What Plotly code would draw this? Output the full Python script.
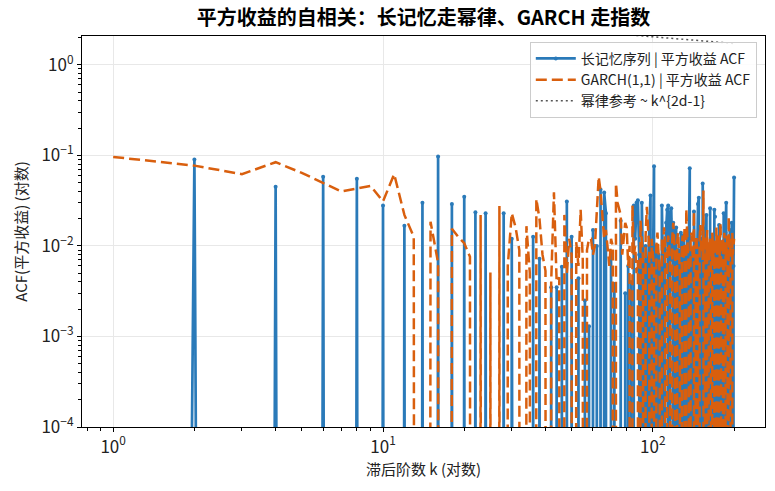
import numpy as np
import plotly.graph_objects as go

lags = list(range(1, 201))

# 长记忆序列 平方收益 ACF (负值在对数轴上被截断)
acf_long_memory = [
    -0.03, 0.090, -0.025, 0.045, -0.02, 0.058, -0.018, 0.055, -0.015, 0.028,
    -0.012, 0.0167, -0.01, 0.030, -0.01, 0.097, -0.01, 0.029, -0.008, 0.035,
    -0.008, 0.0235, -0.008, 0.023, -0.006, -0.005, -0.005, 0.023, -0.005, 0.012,
    -0.004, -0.004, -0.004, -0.003, -0.003, 0.0126, -0.003, 0.0072, -0.003, -0.003,
    -0.002, 0.0035, -0.002, 0.0035, -0.002, 0.0059, -0.002, 0.031, -0.002, 0.0126,
    -0.002, -0.002, 0.0044, -0.002, -0.002, 0.0025, -0.002, 0.0013, -0.002, 0.015,
    -0.002, 0.010, -0.002, 0.042, -0.002, 0.039, 0.023, -0.002, -0.002, 0.0083,
    -0.002, 0.0038, -0.002, -0.002, -0.002, 0.019, -0.002, -0.002, 0.003, -0.002,
    0.006, -0.002, 0.004, -0.002, 0.028, 0.012, 0.030, 0.032, 0.008, -0.002,
    0.030, 0.005, -0.002, 0.010, -0.002, 0.006, 0.015, 0.036, -0.002, 0.004,
    0.076, -0.002, 0.010, -0.002, 0.008, 0.005, -0.002, 0.028, 0.006, -0.002,
    0.009, 0.018, 0.025, 0.028, -0.002, 0.020, 0.026, 0.007, 0.018, -0.002,
    0.012, 0.016, -0.002, 0.009, 0.006, -0.002, 0.014, 0.008, -0.002, 0.013,
    0.004, -0.002, 0.007, 0.012, -0.002, 0.010, 0.072, -0.002, 0.006, 0.009,
    -0.002, 0.024, 0.005, -0.002, 0.011, 0.007, 0.029, 0.034, -0.002, 0.008,
    0.012, -0.002, 0.049, 0.010, -0.002, 0.006, 0.014, 0.022, -0.002, 0.009,
    0.005, -0.002, 0.026, 0.011, -0.002, 0.007, 0.013, -0.002, 0.025, 0.021,
    -0.002, 0.009, 0.006, -0.002, 0.012, 0.017, 0.016, -0.002, 0.008, 0.011,
    -0.002, 0.006, 0.023, 0.010, -0.002, 0.014, 0.030, -0.002, 0.007, 0.012,
    -0.002, 0.009, 0.015, -0.002, 0.011, 0.018, 0.008, -0.002, 0.006, 0.057,
]

# GARCH(1,1) 平方收益 ACF
acf_garch = [
    0.096, 0.077, 0.062, 0.084, 0.064, 0.050, 0.040, 0.043, 0.046, 0.031,
    0.062, 0.022, 0.0126, -0.005, 0.0185, 0.0065, -0.005, 0.0155, 0.0126, 0.0107,
    0.0076, -0.005, 0.022, -0.004, 0.0051, -0.004, 0.0275, -0.004, 0.006, 0.023,
    0.016, 0.009, -0.003, 0.0165, 0.005, -0.003, 0.033, 0.020, 0.008, 0.0053,
    -0.003, 0.004, 0.039, 0.004, 0.0045, -0.003, 0.022, 0.005, 0.012, 0.008,
    -0.003, 0.011, 0.006, 0.025, 0.007, -0.003, 0.009, 0.012, 0.012, 0.008,
    0.010, 0.030, 0.058, 0.040, 0.020, 0.012, 0.015, 0.009, 0.006, 0.012,
    0.010, -0.003, 0.049, 0.030, 0.025, 0.022, 0.008, 0.012, 0.018, 0.016,
    0.006, 0.010, -0.003, 0.028, 0.008, 0.010, 0.005, 0.007, -0.003, 0.019,
    0.011, 0.007, -0.003, 0.013, 0.027, 0.015, 0.009, -0.003, 0.012, 0.008,
    0.006, -0.003, 0.010, 0.014, 0.009, 0.005, -0.003, 0.012, 0.008, 0.016,
    0.011, -0.003, 0.007, 0.013, 0.010, 0.006, -0.003, 0.012, 0.018, 0.009,
    0.007, -0.003, 0.011, 0.014, 0.008, 0.005, -0.003, 0.010, 0.013, 0.007,
    0.016, -0.003, 0.0255, 0.012, 0.008, 0.006, -0.003, 0.011, 0.014, 0.009,
    0.007, 0.024, -0.003, 0.010, 0.013, 0.008, 0.006, -0.003, 0.012, 0.017,
    0.009, 0.011, 0.007, 0.041, -0.003, 0.013, 0.010, 0.008, 0.015, -0.003,
    0.011, 0.007, 0.012, 0.009, -0.003, 0.014, 0.010, 0.006, 0.012, -0.003,
    0.009, 0.016, 0.008, 0.011, -0.003, 0.013, 0.007, 0.018, 0.010, -0.003,
    0.009, 0.012, 0.008, 0.014, -0.003, 0.011, 0.007, 0.013, 0.010, -0.003,
    0.021, 0.009, 0.012, 0.007, -0.003, 0.011, 0.014, 0.008, 0.010, 0.012,
]

# 幂律参考线 ~ k^{2d-1}
ref_lags = [1, 200]
ref_vals = [6.3, 1.72]

x_tickvals = [1, 10, 100]
x_ticktext = ["10<sup>0</sup>", "10<sup>1</sup>", "10<sup>2</sup>"]
y_tickvals = [1e-4, 1e-3, 1e-2, 1e-1, 1]
y_ticktext = ["10<sup>−4</sup>", "10<sup>−3</sup>", "10<sup>−2</sup>", "10<sup>−1</sup>", "10<sup>0</sup>"]

FLOOR = 1e-100  # 非正值截断 (与 matplotlib 对数轴 clip 行为一致)
lm_plot = np.where(np.array(acf_long_memory) > 0, acf_long_memory, FLOOR)
ga_plot = np.where(np.array(acf_garch) > 0, acf_garch, FLOOR)

FONT = "Noto Sans CJK SC"
BLUE = "#2a7ab9"
ORANGE = "#d95f0e"

fig = go.Figure()
fig.add_trace(go.Scatter(
    x=lags, y=lm_plot, mode="lines+markers",
    name="长记忆序列 | 平方收益 ACF",
    line=dict(color=BLUE, width=2.7),
    marker=dict(size=4, color=BLUE),
))
fig.add_trace(go.Scatter(
    x=lags, y=ga_plot, mode="lines",
    name="GARCH(1,1) | 平方收益 ACF",
    line=dict(color=ORANGE, width=2.5, dash="11px,5px"),
))
fig.add_trace(go.Scatter(
    x=ref_lags, y=ref_vals, mode="lines",
    name="幂律参考 ~ k^{2d-1}",
    line=dict(color="#555555", width=1.5, dash="2px,3px"),
))

minor_x = [v * m for v in (0.1, 1, 10, 100) for m in range(2, 10)]
minor_y = [v * m for v in (1e-4, 1e-3, 1e-2, 1e-1, 1) for m in range(2, 10)]

axis_common = dict(
    showline=True, linecolor="black", linewidth=1.2, mirror=True,
    ticks="outside", ticklen=4, tickcolor="black", tickwidth=1,
    showgrid=True, gridcolor="#e8e8e8", gridwidth=1,
    zeroline=False,
    tickfont=dict(family=FONT, size=17, color="#222"),
)

fig.update_xaxes(
    type="log", range=[-0.1155, 2.4156],
    tickmode="array", tickvals=x_tickvals, ticktext=x_ticktext,
    minor=dict(tickmode="array", tickvals=minor_x, ticks="outside", ticklen=2.5,
               tickcolor="black", showgrid=False),
    title=dict(text="滞后阶数 k (对数)", font=dict(family=FONT, size=15, color="#222"), standoff=4),
    **axis_common,
)
fig.update_yaxes(
    type="log", range=[-4, 0.318],
    tickmode="array", tickvals=y_tickvals, ticktext=y_ticktext,
    minor=dict(tickmode="array", tickvals=minor_y, ticks="outside", ticklen=2.5,
               tickcolor="black", showgrid=False),
    title=dict(text="ACF(平方收益) (对数)", font=dict(family=FONT, size=15, color="#222"), standoff=10),
    **axis_common,
)

fig.update_layout(
    width=775, height=491,
    margin=dict(l=82, r=10, t=36, b=64),
    plot_bgcolor="white", paper_bgcolor="white",
    title=dict(text="<b>平方收益的自相关：长记忆走幂律、GARCH 走指数</b>",
               x=0.5, xref="paper", xanchor="center", y=0.963, yanchor="middle",
               font=dict(family=FONT, size=20, color="black")),
    legend=dict(x=0.988, y=0.985, xanchor="right", yanchor="top",
                bgcolor="rgba(255,255,255,0.85)", bordercolor="#cccccc", borderwidth=1,
                font=dict(family=FONT, size=14, color="#222"),
                tracegroupgap=0, itemwidth=40),
    showlegend=True,
)

fig.write_html("out.html")
